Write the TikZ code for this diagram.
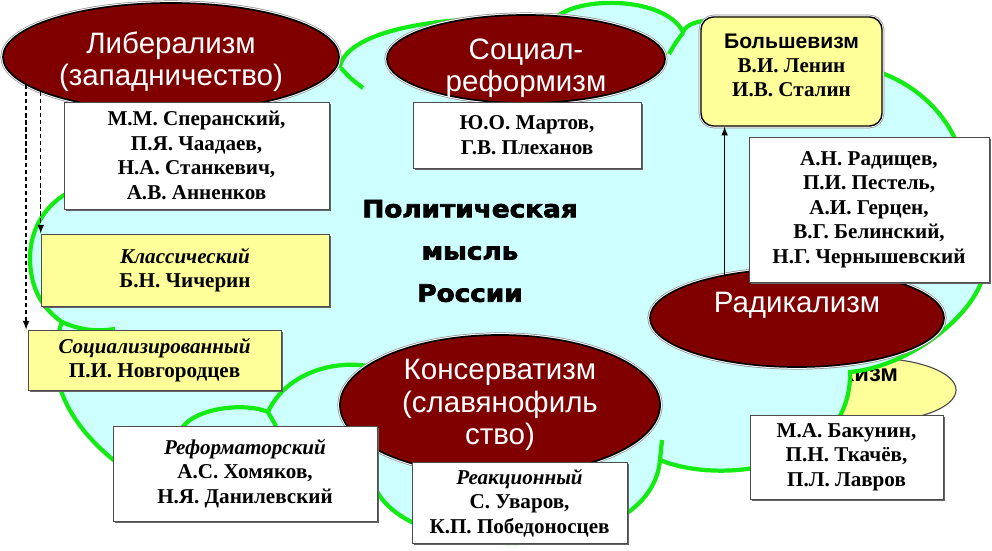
\documentclass[tikz,border=0pt]{standalone}
\usepackage{fontspec}
\setmainfont{Liberation Serif}
\newfontfamily\hdrfont{Liberation Sans}
\newfontfamily\ttlfont{DejaVu Sans Bold}[FakeStretch=1.1, FakeBold=3]
\usetikzlibrary{shapes.geometric, arrows, shadows}

\definecolor{cloudfill}{RGB}{205,255,255}
\definecolor{cloudline}{RGB}{20,235,20}
\definecolor{schoolred}{RGB}{128,0,0}
\definecolor{paleyellow}{RGB}{255,255,153}

\tikzset{
  school/.style={ellipse, fill=schoolred, draw=black, line width=1.2pt,
    preaction={draw=black!45, line width=3.6pt},
    preaction={draw=white, line width=2.6pt}, inner sep=0pt},
  schooltxt/.style={text=white, align=center, inner sep=0pt,
    font=\hdrfont\fontsize{21}{23}\selectfont},
  names/.style={rectangle, fill=white, draw=black!70, line width=0.6pt, inner sep=0pt,
    drop shadow={shadow xshift=1.2pt, shadow yshift=-1.2pt, fill=black!60, opacity=1},
    align=center, font=\bfseries\fontsize{15}{17.5}\selectfont},
  branch/.style={names, fill=paleyellow},
  leader/.style={rectangle, rounded corners=9pt, fill=paleyellow, draw=black, line width=1pt,
    preaction={draw=black!45, line width=3.2pt},
    preaction={draw=white, line width=2.2pt},
    align=center, inner sep=0pt, font=\bfseries\fontsize{15}{17}\selectfont},
  title/.style={align=center, inner sep=0pt, font=\ttlfont\fontsize{17}{30}\selectfont},
  cloudarc/.style={draw=cloudline, line width=3pt},
  arr/.style={line width=1.1pt, -latex},
  dasharr/.style={arr, densely dashed}
}

\begin{document}
\begin{tikzpicture}[x=0.025cm, y=-0.025cm]
\useasboundingbox (0,0) rectangle (992,551);

% oval lying behind the cloud
\node[ellipse, fill=paleyellow, draw=black!70, line width=0.8pt,
  minimum width=4.3cm, minimum height=1.6cm] (ana) at (870,390) {};
\node[inner sep=0pt, font=\hdrfont\bfseries\fontsize{17}{20}\selectfont] (anatxt) at (840,376) {Анархизм};

% cloud
\path[fill=cloudfill, cloudarc] (340,66)
  .. controls (350,25) and (470,12) .. (552,22)
  .. controls (570,-5) and (665,-5) .. (683,32)
  .. controls (690,12) and (770,12) .. (790,80)
  .. controls (850,35) and (990,95) .. (964,225)
  .. controls (1030,270) and (930,365) .. (850,372)
  .. controls (852,470) and (720,485) .. (660,460)
  .. controls (650,570) and (390,565) .. (372,478)
  .. controls (330,525) and (240,525) .. (200,505)
  .. controls (150,495) and (25,420) .. (62,322)
  .. controls (40,307) and (30,285) .. (30,258)
  .. controls (30,196) and (100,161) .. (150,198)
  .. controls (170,110) and (280,60) .. (340,66) -- cycle;

% inner arcs of the cloud
\draw[cloudarc] (341,68) .. controls (350,78) .. (363,88);
\draw[cloudarc] (683,33) .. controls (676,42) .. (669,54);
\draw[cloudarc] (660,460) .. controls (661,450) .. (662,440);
\draw[cloudarc] (62,322) .. controls (85,332) and (100,331) .. (115,329);
\draw[cloudarc] (182,428) .. controls (195,408) and (245,402) .. (268,412);
\draw[cloudarc] (268,412) -- (276,426);
\draw[cloudarc] (268,412) .. controls (285,375) and (330,360) .. (368,366);

\node[title] (ttl) at (470,251) {Политическая\\мысль\\России};

% schools
\node[school, minimum width=8.4cm, minimum height=2.7cm] (lib) at (171,57) {};
\node[schooltxt] (libtxt) at (171,62) {Либерализм\\(западничество)};
\node[school, minimum width=6.95cm, minimum height=2.2cm] (socref) at (526,59) {};
\node[schooltxt] (socreftxt) at (526,68) {Социал-\\реформизм};
\node[school, minimum width=7.35cm, minimum height=2.45cm] (rad) at (797,318) {};
\node[schooltxt] (radtxt) at (797,305) {Радикализм};
\node[school, minimum width=8cm, minimum height=3.5cm] (cons) at (500,405) {};
\node[schooltxt] (constxt) at (500,405) {Консерватизм\\(славянофиль\\ство)};

% persons and branches
\node[names, minimum width=6.625cm, minimum height=2.675cm] (libnames) at (196.5,155.5)
  {М.М. Сперанский,\\П.Я. Чаадаев,\\Н.А. Станкевич,\\А.В. Анненков};
\node[names, minimum width=5.7cm, minimum height=1.65cm] (socrefnames) at (527,135)
  {Ю.О. Мартов,\\Г.В. Плеханов};
\node[leader, minimum width=4.525cm, minimum height=2.725cm] (bol) at (791.5,71.5)
  {{\hdrfont Большевизм}\\В.И. Ленин\\И.В. Сталин\rule[-0.3cm]{0pt}{0.3cm}};
\node[names, minimum width=6cm, minimum height=3.625cm] (radnames) at (869,209.5)
  {А.Н. Радищев,\\П.И. Пестель,\\А.И. Герцен,\\В.Г. Белинский,\\Н.Г. Чернышевский};
\node[branch, minimum width=7.2cm, minimum height=1.8cm] (cls) at (185,270)
  {{\itshape Классический}\\Б.Н. Чичерин};
\node[branch, minimum width=6.325cm, minimum height=1.5cm] (soc) at (154.5,360)
  {{\itshape Социализированный}\\П.И. Новгородцев};
\node[names, minimum width=6.6cm, minimum height=2.375cm] (refm) at (245,473.5)
  {{\itshape Реформаторский}\\А.С. Хомяков,\\Н.Я. Данилевский};
\node[names, minimum width=5.375cm, minimum height=2.025cm] (react) at (519.5,503)
  {{\itshape Реакционный}\\С. Уваров,\\К.П. Победоносцев};
\node[names, minimum width=4.825cm, minimum height=2.1cm] (anames) at (846.5,457)
  {М.А. Бакунин,\\П.Н. Ткачёв,\\П.Л. Лавров};

% arrows
\draw[arr] (rad.149) -- (rad.149 |- bol.south);
\draw[dasharr] (lib.195) -- (lib.195 |- cls.north);
\draw[dasharr] (lib.191) -- (lib.191 |- soc.north);
\end{tikzpicture}
\end{document}
